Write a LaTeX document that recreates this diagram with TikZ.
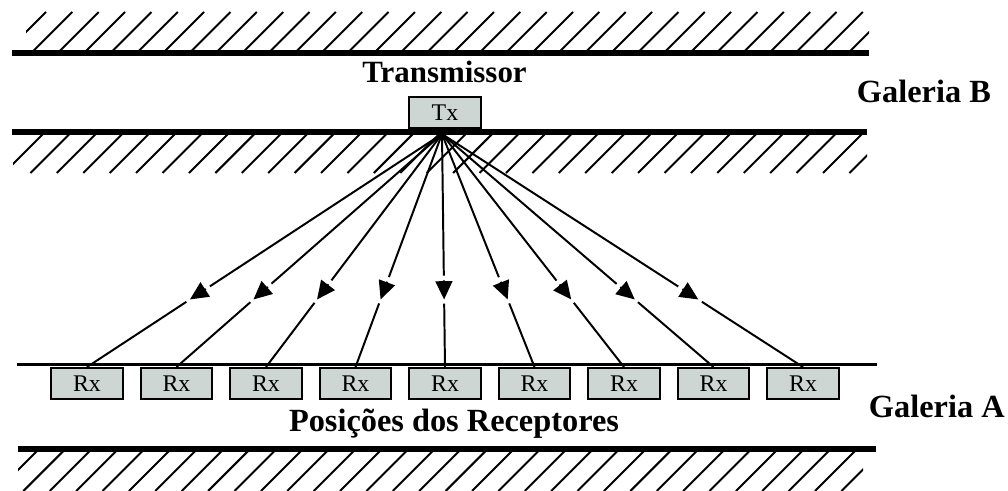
\documentclass[tikz,border=0pt]{standalone}
\usepackage{fontspec}
\setmainfont{Liberation Serif}
\usetikzlibrary{calc, arrows.meta}
\definecolor{boxfill}{RGB}{205,214,210}

\begin{document}
\begin{tikzpicture}[x=0.025cm, y=-0.025cm, line width=1.4pt,
  wall/.style={line width=3.8pt},
  hatch/.style={line width=1.4pt},
  unit/.style={draw, fill=boxfill, line width=1.4pt, minimum width=51pt,
    minimum height=22pt, inner sep=0pt, font=\fontsize{17}{17}\selectfont},
  rotulo/.style={inner sep=0pt, font=\fontsize{23}{23}\selectfont\bfseries}]
  \useasboundingbox (0,0) rectangle (1008,491);
  % 墙线
  \draw[wall] (12,53) -- (869,53);
  \draw[wall] (12,132) -- (867,132);
  \draw[line width=2.2pt] (17,364.5) -- (877,364.5);
  \draw[wall] (18,449) -- (876,449);
  % 阴影线
  \begin{scope}
    \clip (26,0) rectangle (869,60);
    \foreach \k in {0,...,32}
      \draw[hatch] (7+26.35*\k,51) -- ++(39,-39);
  \end{scope}
  \begin{scope}
    \clip (13,130) rectangle (867,180);
    \foreach \k in {0,...,32}
      \draw[hatch] (43+26.42*\k,134) -- ++(-39,39);
  \end{scope}
  \begin{scope}
    \clip (18,440) rectangle (863,491);
    \foreach \k in {0,...,32}
      \draw[hatch] (37+26.39*\k,451) -- ++(-40,40);
  \end{scope}

  \node[unit] (tx) at (445,112.5) {Tx};
  \foreach \i in {1,...,9}
    \node[unit] (r\i) at ({87+89.5*(\i-1)},383.5) {Rx};
  \coordinate (src) at (442,134);

  % 射线, 箭头前后断开
  \foreach \i in {1,...,9} {
    \coordinate (p\i) at ($(src)!0.71!(r\i.north)$);
    \draw (src) -- ($(p\i)!17pt!(src)$);
    \draw[-{Triangle[length=13pt,width=12pt]}] ($(p\i)!13.5pt!(src)$) -- (p\i);
    \draw ($(p\i)!3pt!(r\i.north)$) -- (r\i.north);
  }

  \node[rotulo, anchor=base, font=\fontsize{22}{22}\selectfont\bfseries] (trans) at (444.5,83) {Transmissor};
  \node[rotulo, anchor=base west] (galb) at (856,103) {Galeria B};
  \node[rotulo, anchor=base west] (gala) at (868,418) {Galeria A};
  \node[rotulo, anchor=base] (pos) at (454,432) {Posições dos Receptores};
\end{tikzpicture}
\end{document}
